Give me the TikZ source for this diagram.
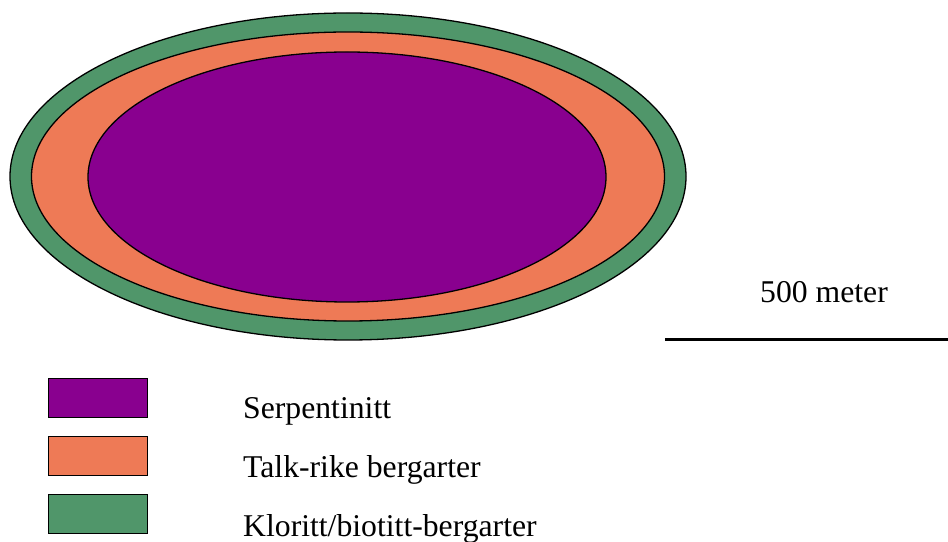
\documentclass[tikz,border=0pt]{standalone}
\usepackage{fontspec}
\setmainfont{Liberation Serif}
\definecolor{serp}{RGB}{137,0,143}
\definecolor{talk}{RGB}{238,122,86}
\definecolor{klor}{RGB}{80,150,106}
\begin{document}
\begin{tikzpicture}[x=1pt,y=1pt,
  zone/.style={draw=black,line width=1.3pt},
  legbox/.style={draw=black,line width=1.3pt,minimum width=99pt,minimum height=39pt,inner sep=0pt,anchor=north west},
  legtext/.style={anchor=base west,inner sep=0pt,font=\fontsize{31.7}{38}\selectfont}]
\useasboundingbox (0,0) rectangle (948,541);
% map
\fill[white] (0,0) rectangle (948,541);
\draw[zone,fill=klor] (348,364.5) ellipse [x radius=338, y radius=163.5];
\draw[zone,fill=talk] (348,364.5) ellipse [x radius=316.5, y radius=144.5];
\draw[zone,fill=serp] (347,364) ellipse [x radius=259, y radius=125];
% scale
\node[legtext] (scl) at (760,238) {500 meter};
\coordinate (sbA) at (665,201);
\coordinate (sbB) at (948,201);
\draw[line width=3pt] (sbA) -- (sbB);
% legend
\node[legbox,fill=serp] (b1) at (48,163) {};
\node[legbox,fill=talk] (b2) at (48,105) {};
\node[legbox,fill=klor] (b3) at (48,47) {};
\node[legtext] (t1) at (243,122) {Serpentinitt};
\node[legtext] (t2) at (243,63) {Talk-rike bergarter};
\node[legtext] (t3) at (243,5) {Kloritt/biotitt-bergarter};
\end{tikzpicture}
\end{document}
